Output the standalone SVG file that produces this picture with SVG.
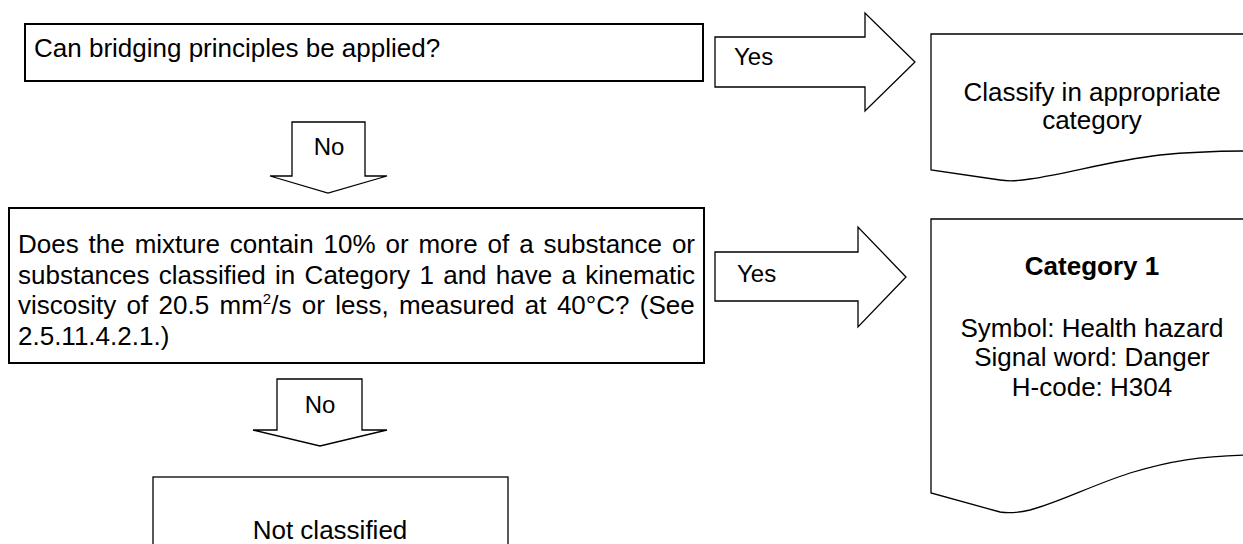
<svg xmlns="http://www.w3.org/2000/svg" width="1243" height="544" viewBox="0 0 1243 544">
<style>
  text { font-family: "Liberation Sans", Arial, sans-serif; font-size: 26px; fill: #000; }
  .box { fill: #fff; stroke: #000; stroke-width: 2; }
  .thin { fill: #fff; stroke: #000; stroke-width: 1.3; stroke-linejoin: miter; }
  .lbl { font-size: 24px; }
  .mid { text-anchor: middle; }
  .bold { font-weight: bold; }
</style>
<rect width="1243" height="544" fill="#fff"/>
<g id="connectors">
  <g id="yes1">
    <polygon class="thin" points="715,37 865,37 865,13 915,62 865,111 865,87 715,87"/>
    <text class="lbl" x="734" y="65">Yes</text>
  </g>
  <g id="no1">
    <polygon class="thin" points="292,122 365,122 365,176 387,176 328,193 270,176 292,176"/>
    <text class="lbl mid" x="329" y="155">No</text>
  </g>
  <g id="yes2">
    <polygon class="thin" points="715,252 858,252 858,227 906,277 858,327 858,301 715,301"/>
    <text class="lbl" x="737" y="282">Yes</text>
  </g>
  <g id="no2">
    <polygon class="thin" points="277,379 362,379 362,430 387,430 320,446 253,430 277,430"/>
    <text class="lbl mid" x="320" y="413">No</text>
  </g>
</g>
<g id="q1">
  <rect class="box" x="25" y="24" width="678" height="57"/>
  <text x="34" y="57">Can bridging principles be applied?</text>
</g>
<g id="q2">
  <rect class="box" x="9" y="208" width="695" height="155"/>
  <text x="18" y="253" word-spacing="2.67">Does the mixture contain 10% or more of a substance or</text>
  <text x="18" y="283.5" word-spacing="2.08">substances classified in Category 1 and have a kinematic</text>
  <text x="18" y="314" word-spacing="3.1">viscosity of 20.5 mm<tspan dy="-10" font-size="15">2</tspan><tspan dy="10">/s or less, measured at 40°C? (See</tspan></text>
  <text x="18" y="345">2.5.11.4.2.1.)</text>
</g>
<g id="classify">
  <path class="thin" d="M1250,34 H931 V170 L1000,180 Q1012,182 1030,179 C1070,173 1110,161 1160,155 C1190,152 1220,151 1250,151"/>
  <text class="mid" x="1092" y="101">Classify in appropriate</text>
  <text class="mid" x="1092" y="129">category</text>
</g>
<g id="category1">
  <path class="thin" d="M1250,219 H931 V493 L1000,512 Q1012,514 1030,510 C1060,502 1090,486 1130,473 C1170,461 1200,456 1250,455"/>
  <text class="mid bold" x="1092" y="275">Category 1</text>
  <text class="mid" x="1092" y="337">Symbol: Health hazard</text>
  <text class="mid" x="1092" y="366">Signal word: Danger</text>
  <text class="mid" x="1092" y="396">H-code: H304</text>
</g>
<g id="notclassified">
  <rect class="thin" x="153" y="477" width="355" height="90"/>
  <text class="mid" x="330" y="539">Not classified</text>
</g>
</svg>
